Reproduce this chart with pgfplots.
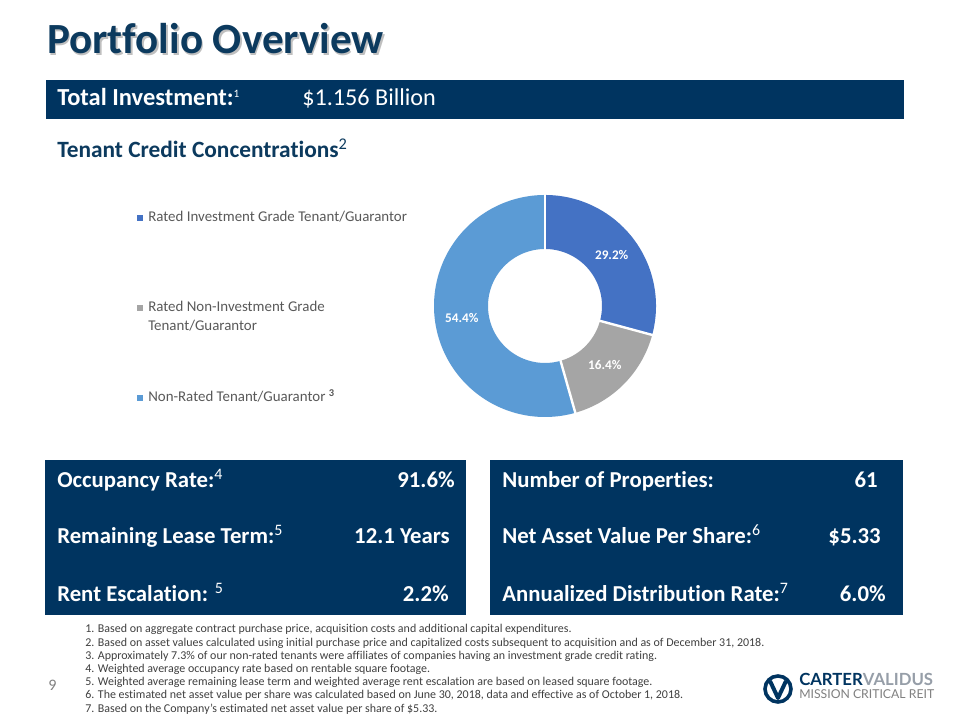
\documentclass[border=0pt]{standalone}
\usepackage{fontspec}
\setmainfont[Ligatures=NoCommon]{Carlito}
\newfontfamily\logofont{Lato}
\usepackage{pgfplots}
\pgfplotsset{compat=1.18}
\usepackage{pgfplotstable}

\definecolor{navy}{RGB}{0,52,96}
\definecolor{titlenavy}{RGB}{12,58,94}
\definecolor{sliceA}{RGB}{68,114,196}
\definecolor{sliceB}{RGB}{165,165,165}
\definecolor{sliceC}{RGB}{91,155,213}
\definecolor{legendtext}{RGB}{89,89,89}
\definecolor{notegray}{RGB}{64,64,64}
\definecolor{logogray}{RGB}{150,158,168}

% tenant credit concentrations (% of portfolio)
\pgfplotstableread{
share
29.2
16.4
54.4
}\credit

\newcommand{\boxfont}{\fontsize{16.2}{19}\selectfont\bfseries}
\newcommand{\legfont}{\fontsize{10.6}{12}\selectfont}

\begin{document}
\begin{tikzpicture}[x=0.025cm, y=0.025cm]
\pgfplotstablegetelem{0}{share}\of\credit \let\shareA\pgfplotsretval
\pgfplotstablegetelem{1}{share}\of\credit \let\shareB\pgfplotsretval
\pgfplotstablegetelem{2}{share}\of\credit \let\shareC\pgfplotsretval
\pgfmathsetmacro\angA{90}
\pgfmathsetmacro\angB{\angA-3.6*\shareA}
\pgfmathsetmacro\angC{\angB-3.6*\shareB}
\pgfmathsetmacro\angD{\angC-3.6*\shareC}
\pgfmathsetmacro\midA{(\angA+\angB)/2}
\pgfmathsetmacro\midB{(\angB+\angC)/2}
\pgfmathsetmacro\midC{(\angC+\angD)/2}
\fill[white] (0,0) rectangle (960,720);

% title with soft shadow
\node[anchor=base west, inner sep=0, text=black, opacity=0.25, font=\fontsize{30.6}{32}\selectfont\bfseries] at (48.5,664.5) {Portfolio Overview};
\node[anchor=base west, inner sep=0, text=titlenavy, font=\fontsize{30.6}{32}\selectfont\bfseries] at (47,666) {Portfolio Overview};

% total investment bar
\fill[navy] (46,601) rectangle (904,640);
\node[anchor=base west, inner sep=0, text=white, font=\fontsize{17.4}{20}\selectfont\bfseries] at (57,614) {Total Investment:\textsuperscript{\normalfont\footnotesize 1}};
\node[anchor=base west, inner sep=0, text=white, font=\fontsize{17.2}{20}\selectfont] at (302,614) {\$1.156 Billion};

\node[anchor=base west, inner sep=0, text=titlenavy, font=\fontsize{16.6}{19}\selectfont\bfseries] at (57,562) {Tenant Credit Concentrations\textsuperscript{\normalfont 2}};

% legend
\fill[sliceA] (137,499) rectangle (143,505);
\node[anchor=base west, inner sep=0, text=legendtext, font=\legfont] at (148,498) {Rated Investment Grade Tenant/Guarantor};
\fill[sliceB] (137,409) rectangle (143,415);
\node[anchor=base west, inner sep=0, text=legendtext, font=\legfont] at (148,408) {Rated Non-Investment Grade};
\node[anchor=base west, inner sep=0, text=legendtext, font=\legfont] at (148,389) {Tenant/Guarantor};
\fill[sliceC] (137,319) rectangle (143,325);
\node[anchor=base west, inner sep=0, text=legendtext, font=\legfont] at (148,318) {Non-Rated Tenant/Guarantor \textsuperscript{\bfseries 3}};

% donut
\begin{axis}[at={(545,414)}, anchor=origin, x=0.025cm, y=0.025cm,
  xmin=-125, xmax=125, ymin=-125, ymax=125, hide axis, clip=false]
\addplot[data cs=polar, domain=\angB:\angA, samples=80, line width=1.35cm, sliceA] ({x},{84});
\addplot[data cs=polar, domain=\angC:\angB, samples=60, line width=1.35cm, sliceB] ({x},{84});
\addplot[data cs=polar, domain=\angD:\angC, samples=120, line width=1.35cm, sliceC] ({x},{84});
\addplot[data cs=polar, white, line width=0.06cm] coordinates {(\angA,55) (\angA,113)};
\addplot[data cs=polar, white, line width=0.06cm] coordinates {(\angB,55) (\angB,113)};
\addplot[data cs=polar, white, line width=0.06cm] coordinates {(\angC,55) (\angC,113)};
\addplot[data cs=polar, draw=none, point meta=explicit symbolic,
  nodes near coords={\pgfplotspointmeta\%},
  every node near coord/.append style={anchor=center, text=white, font=\fontsize{9.4}{11}\selectfont\bfseries}]
  coordinates {(\midA,84) [\shareA] (\midB,84) [\shareB] (\midC,84) [\shareC]};
\end{axis}

% key figures
\fill[navy] (45,105) rectangle (466,260);
\fill[navy] (490,105) rectangle (903,260);
\begin{scope}[every node/.style={inner sep=0, text=white, font=\boxfont}]
\node[anchor=base west] at (57,232) {Occupancy Rate:\textsuperscript{\normalfont 4}};
\node[anchor=base east] at (455,232) {91.6\%};
\node[anchor=base west] at (57,176) {Remaining Lease Term:\textsuperscript{\normalfont 5}};
\node[anchor=base east] at (450,176) {12.1 Years};
\node[anchor=base west] at (57,118) {Rent Escalation: \textsuperscript{\normalfont 5}};
\node[anchor=base east] at (449,118) {2.2\%};
\node[anchor=base west] at (502,232) {Number of Properties:};
\node[anchor=base east] at (878,232) {61};
\node[anchor=base west] at (502,176) {Net Asset Value Per Share:\textsuperscript{\normalfont 6}};
\node[anchor=base east] at (881,176) {\$5.33};
\node[anchor=base west] at (502,118) {Annualized Distribution Rate:\textsuperscript{\normalfont 7}};
\node[anchor=base east] at (886,118) {6.0\%};
\end{scope}

% footnotes
\begin{scope}[every node/.style={anchor=base west, inner sep=0, text=notegray, font=\fontsize{8.5}{9}\selectfont}]
\node at (85,87.0) {1. Based on aggregate contract purchase price, acquisition costs and additional capital expenditures.};
\node at (85,73.8) {2. Based on asset values calculated using initial purchase price and capitalized costs subsequent to acquisition and as of December 31, 2018.};
\node at (85,60.6) {3. Approximately 7.3\% of our non-rated tenants were affiliates of companies having an investment grade credit rating.};
\node at (85,47.4) {4. Weighted average occupancy rate based on rentable square footage.};
\node at (85,34.2) {5. Weighted average remaining lease term and weighted average rent escalation are based on leased square footage.};
\node at (85,21.0) {6. The estimated net asset value per share was calculated based on June 30, 2018, data and effective as of October 1, 2018.};
\node at (85,7.8) {7. Based on the Company's estimated net asset value per share of \$5.33.};
\end{scope}

\node[anchor=base west, inner sep=0, text=gray, font=\fontsize{11.4}{12}\selectfont] at (48,29) {9};

% logo
\draw[navy, line width=0.09cm] (778,31) circle (13);
\draw[navy, line width=0.1cm, line join=round] (770,39) -- (778,22) -- (786,39);
\node[anchor=base west, inner sep=0, font=\logofont\bfseries\fontsize{11.9}{12}\selectfont] at (799,34) {\textcolor{navy}{CARTER}\textcolor{logogray}{VALIDUS}};
\node[anchor=base west, inner sep=0, text=gray, font=\logofont\fontsize{8.7}{10}\selectfont] at (799,21) {MISSION CRITICAL REIT};

\pgfresetboundingbox
\useasboundingbox (0,0) rectangle (960,720);
\end{tikzpicture}
\end{document}
